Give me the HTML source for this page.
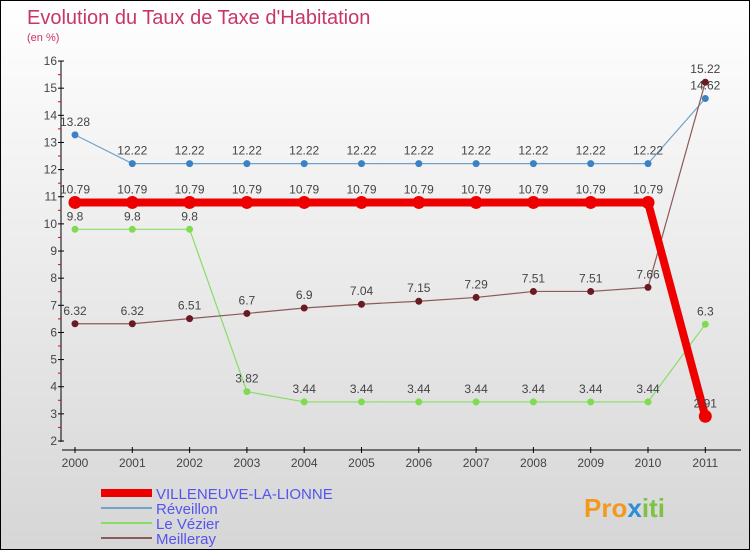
<!DOCTYPE html>
<html><head><meta charset="utf-8"><style>
html,body{margin:0;padding:0}
body{width:750px;height:550px;overflow:hidden;font-family:"Liberation Sans",sans-serif}
#wrap{position:absolute;left:0;top:0;width:748px;height:548px;border:1px solid #000;background:linear-gradient(#ffffff,#d6d6d6)}
svg text{font-family:"Liberation Sans",sans-serif}
</style></head><body>
<div id="wrap">
<svg id="svg" width="748" height="548" xmlns="http://www.w3.org/2000/svg">
<text x="26" y="23" font-size="20" fill="#c8356a">Evolution du Taux de Taxe d'Habitation</text>
<text x="26" y="40" font-size="11" fill="#c8356a">(en %)</text>
<g id="axes"></g><g id="series"></g>
<g>
<rect x="100" y="488" width="51" height="8" fill="#ee0000"/>
<text x="155" y="498" font-size="15" fill="#5555ee">VILLENEUVE-LA-LIONNE</text>
<rect x="100" y="506" width="51" height="2" fill="#6fa3cc"/>
<text x="155" y="513" font-size="15" fill="#5555ee">Réveillon</text>
<rect x="100" y="521" width="51" height="2" fill="#88dd66"/>
<text x="155" y="528" font-size="15" fill="#5555ee">Le Vézier</text>
<rect x="100" y="536" width="51" height="2" fill="#8b5a5a"/>
<text x="155" y="543" font-size="15" fill="#5555ee">Meilleray</text>
</g>
<text x="583" y="516" font-size="26" font-weight="bold" fill="#f39a1e">Pro<tspan fill="#2b8fd6">x</tspan><tspan fill="#7cc243">iti</tspan></text>
</svg></div>
<script>
const years=[2000,2001,2002,2003,2004,2005,2006,2007,2008,2009,2010,2011];
const yTicks=[2,3,4,5,6,7,8,9,10,11,12,13,14,15,16];
const villeneuve=[10.79,10.79,10.79,10.79,10.79,10.79,10.79,10.79,10.79,10.79,10.79,2.91];
const reveillon=[13.28,12.22,12.22,12.22,12.22,12.22,12.22,12.22,12.22,12.22,12.22,14.62];
const levezier=[9.8,9.8,9.8,3.82,3.44,3.44,3.44,3.44,3.44,3.44,3.44,6.3];
const meilleray=[6.32,6.32,6.51,6.7,6.9,7.04,7.15,7.29,7.51,7.51,7.66,15.22];
const NS="http://www.w3.org/2000/svg";
const x=i=>74+i*57.3, y=v=>440-(v-2)*27.14;
function mk(t,a,p){const e=document.createElementNS(NS,t);for(const k in a)e.setAttribute(k,a[k]);p.appendChild(e);return e;}
const ax=document.getElementById('axes'),se=document.getElementById('series');
let l=mk('line',{x1:60,y1:60,x2:60,y2:441,stroke:'#000'},ax);


l=mk('line',{x1:61,y1:449,x2:740,y2:449,stroke:'#000'},ax);


yTicks.forEach(v=>{mk('line',{x1:57,x2:63,y1:y(v),y2:y(v),stroke:'#000'},ax);
 if(v<16)mk('line',{x1:57,x2:60,y1:y(v+0.5),y2:y(v+0.5),stroke:'#e00'},ax);
 const t=mk('text',{x:56,y:y(v)+4,'text-anchor':'end','font-size':12,fill:'#444'},ax);t.textContent=v;
 
 });
years.forEach((yr,i)=>{mk('line',{x1:x(i),x2:x(i),y1:446,y2:452,stroke:'#000'},ax);
 const t=mk('text',{x:x(i),y:466,'text-anchor':'middle','font-size':12,fill:'#444'},ax);t.textContent=yr;
 
 });
function series(data,col,w,r,dot,name,stroke2){
 const g=mk('g',{},se);
 
 
 mk('polyline',{points:data.map((v,i)=>x(i)+','+y(v)).join(' '),fill:'none',stroke:col,'stroke-width':w},g);
 data.forEach((v,i)=>{const c=mk('circle',{cx:x(i),cy:y(v),r:r,fill:dot,stroke:stroke2,'stroke-width':1},g);
  
  
  const t=mk('text',{x:x(i),y:y(v)-9,'text-anchor':'middle','font-size':12,fill:'#444'},g);t.textContent=String(v);
  
  });
}
series(reveillon,'#6fa3cc',1.2,3.5,'#3b82c4','#2a6ca8','series-reveillon');
series(levezier,'#88dd66',1.2,3.5,'#7fdc4f','#4aa030','series-le-vezier');
series(meilleray,'#8b5a5a',1.2,3.5,'#6a1a22','#4a0a10','series-meilleray');
series(villeneuve,'#ee0000',8,6.5,'#ee0000','#ee0000','series-villeneuve');
</script>
</body></html>
